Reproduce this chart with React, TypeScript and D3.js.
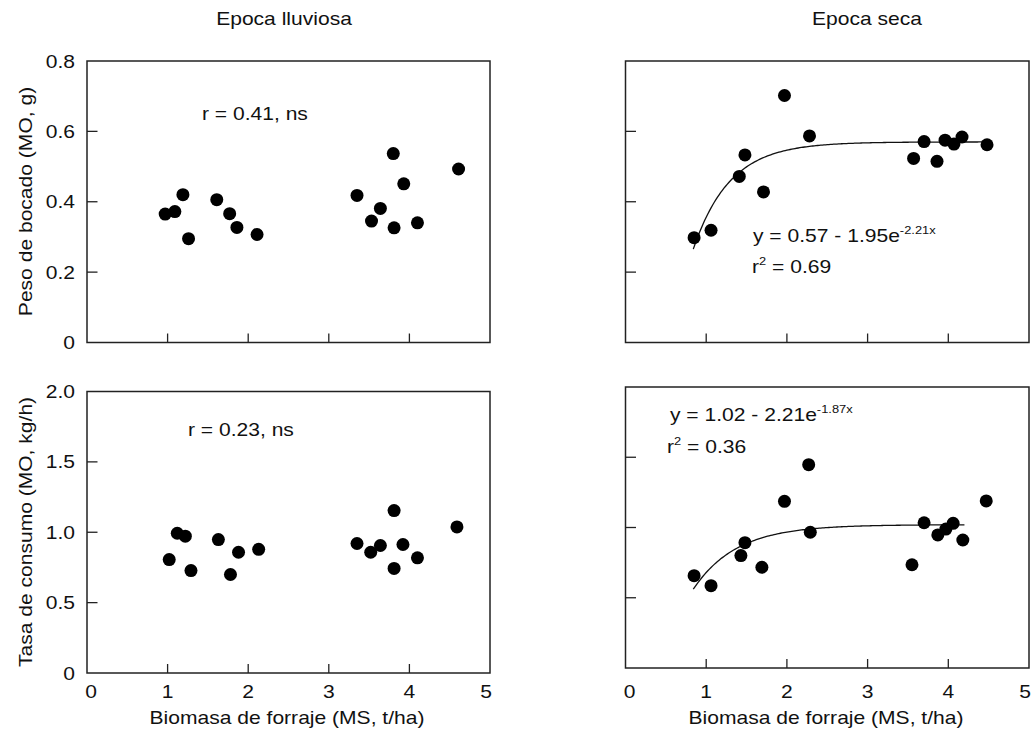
import React from "react";
import * as d3 from "d3";

// ---- data ----
const rainyBiteX = [0.97, 1.09, 1.19, 1.26, 1.61, 1.77, 1.86, 2.11, 3.35, 3.53, 3.64, 3.8, 3.81, 3.93, 4.1, 4.61];
const rainyBiteY = [0.365, 0.372, 0.42, 0.295, 0.406, 0.366, 0.327, 0.307, 0.418, 0.345, 0.381, 0.537, 0.326, 0.451, 0.34, 0.493];

const dryBiteX = [0.85, 1.06, 1.41, 1.48, 1.71, 1.97, 2.28, 3.57, 3.7, 3.86, 3.96, 4.07, 4.17, 4.48];
const dryBiteY = [0.298, 0.319, 0.472, 0.533, 0.428, 0.702, 0.587, 0.523, 0.571, 0.515, 0.575, 0.564, 0.584, 0.562];

const rainyRateX = [1.02, 1.12, 1.22, 1.29, 1.63, 1.78, 1.88, 2.13, 3.35, 3.52, 3.64, 3.81, 3.81, 3.92, 4.1, 4.59];
const rainyRateY = [0.806, 0.993, 0.972, 0.728, 0.948, 0.7, 0.858, 0.879, 0.92, 0.858, 0.906, 1.154, 0.743, 0.913, 0.818, 1.038];

const dryRateX = [0.85, 1.06, 1.43, 1.48, 1.69, 1.97, 2.27, 2.29, 3.55, 3.7, 3.87, 3.97, 4.06, 4.18, 4.47];
const dryRateY = [0.657, 0.586, 0.8, 0.892, 0.717, 1.186, 1.447, 0.966, 0.735, 1.034, 0.947, 0.989, 1.03, 0.911, 1.189];

// fitted model y = a - b * exp(c x)
const biteFit = [0.57, 1.95, -2.21];
const biteFitRange = [0.84, 4.48];
const rateFit = [1.02, 2.21, -1.87];
const rateFitRange = [0.84, 4.2];

const xTickValues = [0, 1, 2, 3, 4, 5];
const biteTickValues = [0, 0.2, 0.4, 0.6, 0.8];
const biteTickLabels = ["0", "0.2", "0.4", "0.6", "0.8"];
const rateTickValues = [0, 0.5, 1.0, 1.5, 2.0];
const rateTickLabels = ["0", "0.5", "1.0", "1.5", "2.0"];

const SX = 1.17;
const FONT = "Arial, 'Liberation Sans', Helvetica, sans-serif";
const FS = 18;

type TProps = {
  x: number;
  y: number;
  anchor?: string;
  rotate?: boolean;
  size?: number;
  children: React.ReactNode;
};
const T = ({ x, y, anchor = "start", rotate = false, size = FS, children }: TProps) => (
  <text
    transform={`translate(${x},${y})${rotate ? " rotate(-90)" : ""} scale(${SX},1)`}
    textAnchor={anchor}
    fontFamily={FONT}
    fontSize={size}
    fill="#111"
  >
    {children}
  </text>
);

type PanelProps = {
  x: d3.ScaleLinear<number, number>;
  y: d3.ScaleLinear<number, number>;
  xs: number[];
  ys: number[];
  yTicks: number[];
  yLabels?: string[];
  showX: boolean;
  fit?: number[];
  fitRange?: number[];
};

const Panel = ({ x, y, xs, ys, yTicks, yLabels, showX, fit, fitRange }: PanelProps) => {
  const [x0, x1] = x.range();
  const [y0, y1] = y.range();
  let path: string | null = null;
  if (fit && fitRange) {
    const [a, b, c] = fit;
    const pts = d3.range(fitRange[0], fitRange[1] + 1e-9, 0.02).map((v) => [v, a - b * Math.exp(c * v)] as [number, number]);
    path = d3.line<[number, number]>().x((d) => x(d[0])).y((d) => y(d[1]))(pts);
  }
  return (
    <g>
      {path && <path d={path} fill="none" stroke="#111" strokeWidth={1.3} />}
      {xs.map((v, i) => (
        <circle key={i} cx={x(v)} cy={y(ys[i])} r={6.5} fill="#000" />
      ))}
      <rect x={x0} y={y1} width={x1 - x0} height={y0 - y1} fill="none" stroke="#222" strokeWidth={1.5} />
      {xTickValues.slice(1, -1).map((t) => (
        <line key={"xt" + t} x1={x(t)} x2={x(t)} y1={y0} y2={y0 - 9} stroke="#222" strokeWidth={1.3} />
      ))}
      {yTicks.slice(1, -1).map((t) => (
        <line key={"yt" + t} x1={x0} x2={x0 + 10.5} y1={y(t)} y2={y(t)} stroke="#222" strokeWidth={1.3} />
      ))}
      {yLabels &&
        yTicks.map((t, i) => (
          <T key={"yl" + t} x={x0 - 12} y={y(t) + 6.5} anchor="end">
            {yLabels[i]}
          </T>
        ))}
      {showX &&
        xTickValues.map((t, i) => (
          <T key={"xl" + t} x={x(t) + (i === 0 ? 4 : i === xTickValues.length - 1 ? -4 : 0)} y={698} anchor="middle">
            {String(t)}
          </T>
        ))}
    </g>
  );
};

export default function App() {
  const xL = d3.scaleLinear().domain([0, 5]).range([87, 490]);
  const xR = d3.scaleLinear().domain([0, 5]).range([625.5, 1029]);
  const yTop = d3.scaleLinear().domain([0, 0.8]).range([342.5, 61]);
  const yBL = d3.scaleLinear().domain([0, 2]).range([673, 391.5]);
  const yBR = d3.scaleLinear().domain([0, 2]).range([668, 387]);

  return (
    <svg
      width={1031}
      height={732}
      style={{ position: "absolute", left: 0, top: 0, background: "#fff" }}
    >
      <rect width={1031} height={732} fill="#fff" />
      <T x={284} y={25} anchor="middle">Epoca lluviosa</T>
      <T x={867} y={25} anchor="middle">Epoca seca</T>

      <Panel x={xL} y={yTop} xs={rainyBiteX} ys={rainyBiteY} yTicks={biteTickValues} yLabels={biteTickLabels} showX={false} />
      <Panel x={xR} y={yTop} xs={dryBiteX} ys={dryBiteY} yTicks={biteTickValues} showX={false} fit={biteFit} fitRange={biteFitRange} />
      <Panel x={xL} y={yBL} xs={rainyRateX} ys={rainyRateY} yTicks={rateTickValues} yLabels={rateTickLabels} showX={true} />
      <Panel x={xR} y={yBR} xs={dryRateX} ys={dryRateY} yTicks={rateTickValues} showX={true} fit={rateFit} fitRange={rateFitRange} />

      <T x={32} y={201.5} anchor="middle" rotate>Peso de bocado (MO, g)</T>
      <T x={32} y={532} anchor="middle" rotate>Tasa de consumo (MO, kg/h)</T>

      <T x={287} y={724} anchor="middle">Biomasa de forraje (MS, t/ha)</T>
      <T x={826} y={724} anchor="middle">Biomasa de forraje (MS, t/ha)</T>

      <T x={202} y={120}>r = 0.41, ns</T>
      <T x={188} y={436}>r = 0.23, ns</T>

      <T x={753} y={242}>
        y = 0.57 - 1.95e<tspan fontSize={11} dy={-8}>-2.21x</tspan>
      </T>
      <T x={752} y={273}>
        r<tspan fontSize={11} dy={-8}>2</tspan><tspan dy={8}> = 0.69</tspan>
      </T>
      <T x={670} y={421}>
        y = 1.02 - 2.21e<tspan fontSize={11} dy={-8}>-1.87x</tspan>
      </T>
      <T x={667} y={453}>
        r<tspan fontSize={11} dy={-8}>2</tspan><tspan dy={8}> = 0.36</tspan>
      </T>
    </svg>
  );
}
